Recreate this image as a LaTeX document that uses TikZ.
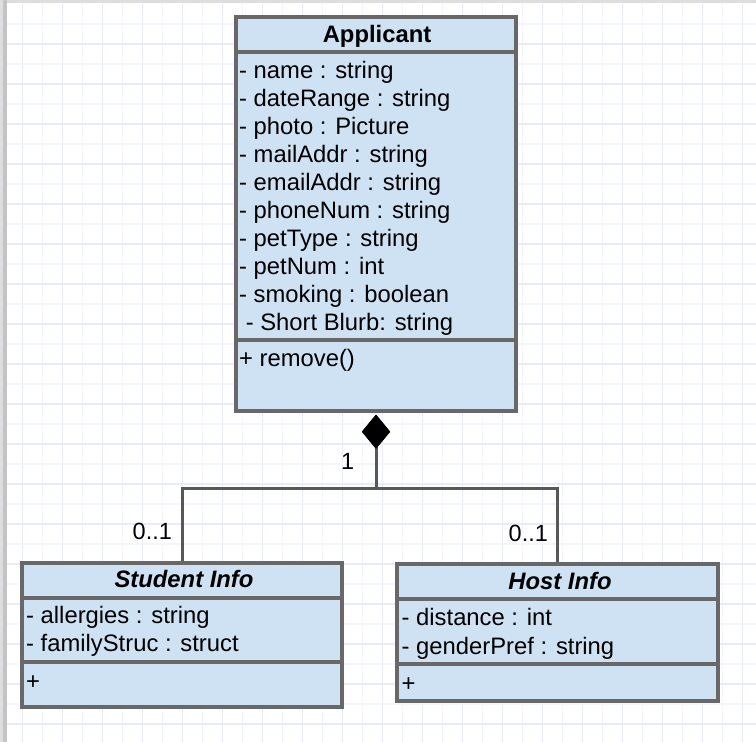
\documentclass[tikz,border=0pt]{standalone}
\usepackage{fontspec}
\setmainfont{Liberation Sans}
\usetikzlibrary{shapes.geometric}
\definecolor{boxfill}{RGB}{207,226,243}
\definecolor{boxline}{RGB}{104,104,104}
\definecolor{connline}{RGB}{88,88,88}
\definecolor{gridstrong}{RGB}{234,234,253}
\definecolor{gridlight}{RGB}{245,245,255}
\definecolor{bandlight}{RGB}{222,222,222}
\definecolor{banddark}{RGB}{196,196,196}
\begin{document}
\begin{tikzpicture}[x=1pt,y=-1pt,
  classbox/.style={draw=boxline, fill=boxfill, line width=3.4pt, inner sep=0pt, rectangle},
  sepline/.style={draw=boxline, line width=3.4pt},
  attr/.style={anchor=base west, inner sep=0pt, font=\fontsize{23.8}{28}\selectfont},
  ctitle/.style={anchor=base, inner sep=0pt, font=\fontsize{23.8}{28}\selectfont\bfseries},
  ititle/.style={anchor=base, inner sep=0pt, font=\fontsize{23.8}{28}\selectfont\bfseries\itshape},
  mult/.style={anchor=base west, inner sep=0pt, font=\fontsize{23.5}{28}\selectfont},
  conn/.style={draw=connline, line width=3pt},
  compdiamond/.style={shape=diamond, fill=black, inner sep=0pt, minimum width=28pt, minimum height=34pt},
  gridS/.style={draw=gridstrong, line width=1.5pt},
  gridL/.style={draw=gridlight, line width=1.5pt},
]
\useasboundingbox (0,0) rectangle (756,742);
\fill[white] (0,0) rectangle (756,742);
% grid
\foreach \k in {1,...,37}{
  \pgfmathtruncatemacro{\odd}{mod(\k,2)}
  \ifnum\odd=1
    \draw[gridS] ({2.7+20*\k},0) -- ({2.7+20*\k},742);
  \else
    \draw[gridL] ({2.7+20*\k},0) -- ({2.7+20*\k},742);
  \fi
}
\foreach \k in {1,...,36}{
  \pgfmathtruncatemacro{\odd}{mod(\k,2)}
  \ifnum\odd=0
    \draw[gridS] (0,{4+20*\k}) -- (756,{4+20*\k});
  \else
    \draw[gridL] (0,{4+20*\k}) -- (756,{4+20*\k});
  \fi
}
% frame bands
\fill[bandlight] (0,0) rectangle (756,3.3);
\fill[banddark] (0,0) rectangle (7,742);
\fill[bandlight] (0,0) rectangle (2.5,742);

% Applicant
\node[classbox, minimum width=280pt, minimum height=394pt] (app) at (376,214) {};
\draw[sepline] (app.west |- 0,52) -- (app.east |- 0,52);
\draw[sepline] (app.west |- 0,340) -- (app.east |- 0,340);
\node[ctitle] (apptitle) at (377,42) {Applicant};
\foreach \t [count=\i from 0] in {- name : string,- dateRange : string,- photo : Picture,- mailAddr : string,- emailAddr : string,- phoneNum : string,- petType : string,- petNum : int,- smoking : boolean,{\ - Short Blurb: string}}{
  \node[attr] (appattr\i) at (239,{78+28*\i}) {\t};
}
\node[attr] (appop) at (239,366) {+ remove()};

% Student Info
\node[classbox, minimum width=320pt, minimum height=144pt] (stu) at (182,635) {};
\draw[sepline] (stu.west |- 0,598) -- (stu.east |- 0,598);
\draw[sepline] (stu.west |- 0,662) -- (stu.east |- 0,662);
\node[ititle] (stutitle) at (184,587) {Student Info};
\node[attr] (stuattr1) at (26,623.5) {- allergies : string};
\node[attr] (stuattr2) at (26,651) {- familyStruc : struct};
\node[attr] (stuop) at (26,689) {+};

% Host Info
\node[classbox, minimum width=321pt, minimum height=137pt] (host) at (557.5,632.5) {};
\draw[sepline] (host.west |- 0,599) -- (host.east |- 0,599);
\draw[sepline] (host.west |- 0,664) -- (host.east |- 0,664);
\node[ititle] (hosttitle) at (560,589.5) {Host Info};
\node[attr] (hostattr1) at (401.5,625) {- distance : int};
\node[attr] (hostattr2) at (401.5,654) {- genderPref : string};
\node[attr] (hostop) at (401.5,691) {+};

% composition
\node[compdiamond, anchor=north] (dia) at ([yshift=-1.8pt]app.south) {};
\coordinate (junc) at (376,488);
\draw[conn] (dia.center) -- (junc);
\fill[black] (dia.north) -- (dia.east) -- (dia.south) -- (dia.west) -- cycle;
\draw[conn] (junc) -| (stu.north);
\draw[conn] (junc) -| (host.north);

% multiplicities
\node[mult] (m1) at (341,469.5) {1};
\node[mult] (m2) at (132.5,539.5) {0..1};
\node[mult] (m3) at (508.5,541.5) {0..1};
\end{tikzpicture}
\end{document}
